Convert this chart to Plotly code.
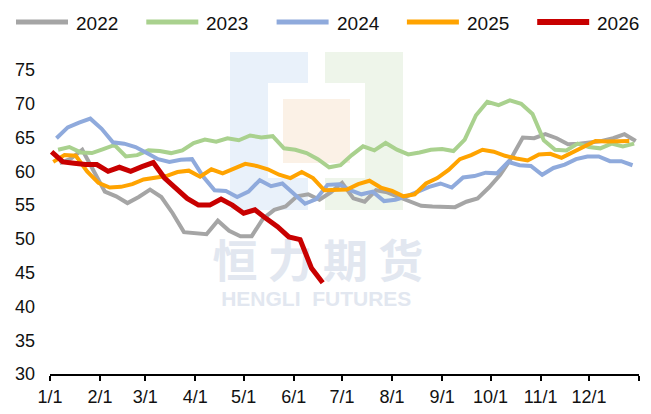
import pandas as pd
import plotly.graph_objects as go

# Weekly (Friday) readings for each year
years = ["2022", "2023", "2024", "2025", "2026"]
first_friday = ["2022-01-07", "2023-01-06", "2024-01-05", "2025-01-03", "2026-01-02"]

v2022 = [61.2, 61.9, 63.2, 60.1, 57.0, 56.3, 55.3, 56.2, 57.3, 56.2, 53.8, 51.0, 50.8,
         50.7, 52.7, 51.2, 50.4, 50.4, 53.0, 54.3, 54.8, 56.3, 56.6, 55.8, 56.9, 58.3,
         56.0, 55.5, 57.2, 56.9, 56.2, 55.5, 54.9, 54.8, 54.7, 54.7, 55.5, 56.0, 57.6,
         59.5, 62.0, 65.0, 64.9, 65.5, 64.9, 64.0, 64.1, 64.3, 64.5, 64.9, 65.5, 64.5]
v2023 = [63.2, 63.6, 62.8, 62.7, 63.3, 63.9, 62.2, 62.4, 63.1, 63.0, 62.7, 63.1, 64.2,
         64.7, 64.4, 64.9, 64.6, 65.3, 65.0, 65.2, 63.4, 63.2, 62.7, 61.8, 60.6, 60.9,
         62.4, 63.7, 63.1, 64.2, 63.2, 62.5, 62.8, 63.2, 63.3, 63.0, 64.7, 68.3, 70.3,
         69.8, 70.5, 70.0, 68.5, 64.6, 63.2, 63.1, 64.1, 63.6, 63.4, 64.1, 63.7, 64.1]
v2024 = [64.9, 66.5, 67.2, 67.8, 66.3, 64.3, 64.1, 63.6, 62.7, 61.8, 61.4, 61.7, 61.8,
         59.2, 57.2, 57.1, 56.2, 57.0, 58.7, 57.8, 58.2, 56.6, 55.2, 55.9, 58.0, 58.1,
         57.2, 56.6, 57.0, 55.6, 55.8, 56.3, 57.0, 57.7, 58.2, 57.6, 59.1, 59.3, 59.8,
         59.7, 61.4, 60.9, 60.8, 59.5, 60.5, 61.0, 61.8, 62.2, 62.2, 61.5, 61.5, 60.9]
v2025 = [61.4, 62.4, 62.3, 60.0, 58.3, 57.6, 57.7, 58.1, 58.8, 59.1, 59.3, 59.9, 60.1,
         59.2, 60.3, 59.7, 60.4, 61.1, 60.8, 60.3, 59.5, 59.0, 59.9, 59.0, 57.2, 57.3,
         57.3, 58.1, 58.6, 57.6, 57.1, 56.3, 56.6, 58.2, 59.0, 60.2, 61.8, 62.4, 63.2,
         62.9, 62.3, 61.9, 61.6, 62.5, 62.6, 62.0, 62.8, 63.7, 64.5, 64.4, 64.4, 64.5]
v2026 = [62.9, 61.4, 61.2, 61.0, 61.0, 60.0, 60.6, 60.0, 60.7, 61.3, 59.0, 57.5, 56.0,
         55.0, 55.0, 55.9, 55.0, 53.8, 54.3, 53.0, 51.8, 50.3, 49.9, 45.7, 43.5]
series_values = [v2022, v2023, v2024, v2025, v2026]

colors = ["#A5A5A5", "#A9D18E", "#8FAADC", "#FFA300", "#C80000"]
widths = [4, 4, 4, 4, 5]

month_ticks = ["1/1", "2/1", "3/1", "4/1", "5/1", "6/1", "7/1", "8/1", "9/1",
               "10/1", "11/1", "12/1"]
y_ticks = [30, 35, 40, 45, 50, 55, 60, 65, 70, 75]

# Geometry of the plotting area (pixels)
W, H = 651, 414
L, R, T, B = 50, 12, 70, 40
PW, PH = W - L - R, H - T - B


def xp(px):
    return (px - L) / PW


def yp(py):
    return (H - B - py) / PH


base = pd.Timestamp("2026-01-01")


def season_dates(start, n):
    d = pd.date_range(start, periods=n, freq="7D")
    return base + pd.to_timedelta(d.dayofyear - 1, unit="D")


fig = go.Figure()

# Watermark text, placed under the data lines
fig.add_trace(go.Scatter(
    x=[pd.Timestamp("2026-06-16"), pd.Timestamp("2026-06-15")], y=[45.9, 40.8],
    mode="text",
    text=["恒 力 期 货", "HENGLI  FUTURES"],
    textfont=dict(family=["Noto Sans CJK SC", "Liberation Sans"], size=[45, 21],
                  weight=[700, 700], color="#e2e7f0"),
    textposition="middle center",
    hoverinfo="skip", showlegend=False,
))

for name, start, vals, c, w in zip(years, first_friday, series_values, colors, widths):
    fig.add_trace(go.Scatter(
        x=season_dates(start, len(vals)), y=vals, name=name, mode="lines",
        line=dict(color=c, width=w), showlegend=False,
    ))

shapes = []
# Logo blocks behind the plot
shapes.append(dict(type="rect", xref="paper", yref="paper", layer="below",
                   x0=xp(230), x1=xp(308), y0=yp(210), y1=yp(52),
                   fillcolor="#e9f1fa", line=dict(width=0)))
shapes.append(dict(type="rect", xref="paper", yref="paper", layer="below",
                   x0=xp(325), x1=xp(403), y0=yp(210), y1=yp(52),
                   fillcolor="#eef5ea", line=dict(width=0)))
shapes.append(dict(type="rect", xref="paper", yref="paper", layer="below",
                   x0=xp(268), x1=xp(365), y0=yp(178), y1=yp(83),
                   fillcolor="#ffffff", line=dict(width=0)))
shapes.append(dict(type="rect", xref="paper", yref="paper", layer="below",
                   x0=xp(283), x1=xp(350), y0=yp(163), y1=yp(99),
                   fillcolor="#fbf1e6", line=dict(width=0)))

# Legend row
annotations = []
for i, (name, c, w) in enumerate(zip(years, colors, widths)):
    x0 = 16 + i * 130.3
    shapes.append(dict(type="line", xref="paper", yref="paper",
                       x0=xp(x0), x1=xp(x0 + 52), y0=yp(22), y1=yp(22),
                       line=dict(color=c, width=w + 1)))
    annotations.append(dict(xref="paper", yref="paper", x=xp(x0 + 58), y=yp(23),
                            text=name, showarrow=False, xanchor="left", yanchor="middle",
                            font=dict(family="Liberation Sans Narrow, Arial Narrow, Liberation Sans, sans-serif",
                                      size=19, color="#111111")))

tickvals = [base + pd.DateOffset(months=m) for m in range(13)]
fig.update_layout(
    width=W, height=H,
    margin=dict(l=L, r=R, t=T, b=B, autoexpand=False),
    paper_bgcolor="white", plot_bgcolor="white",
    shapes=shapes, annotations=annotations,
    xaxis=dict(type="date", range=[base, base + pd.DateOffset(years=1)],
               tickvals=tickvals, ticktext=month_ticks + [""], automargin=False,
               ticks="outside", ticklen=5, tickwidth=2, tickcolor="black",
               showline=True, linecolor="black", linewidth=2,
               showgrid=False, zeroline=False, ticklabelstandoff=0,
               tickfont=dict(family="Liberation Sans, Arial, sans-serif", size=18,
                             color="#111111")),
    yaxis=dict(range=[30, 75], tickvals=y_ticks, showgrid=False, zeroline=False,
               showline=False, ticks="", ticklabelstandoff=14, automargin=False,
               tickfont=dict(family="Liberation Sans, Arial, sans-serif", size=18,
                             color="#111111")),
)

fig.write_html("out.html")
